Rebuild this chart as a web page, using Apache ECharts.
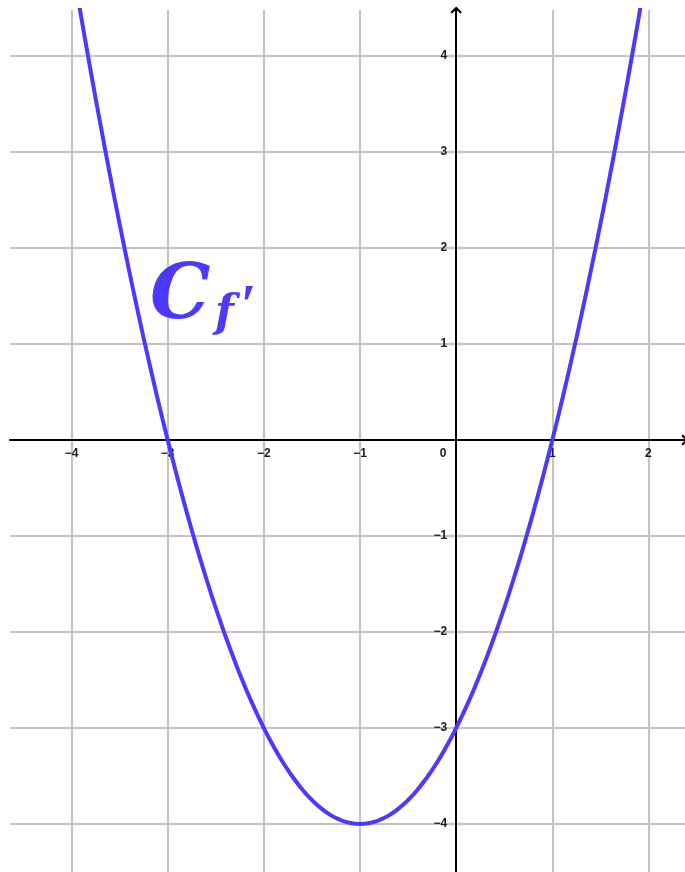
<!DOCTYPE html>
<html>
<head>
<meta charset="utf-8">
<script src="https://cdn.jsdelivr.net/npm/echarts@6/dist/echarts.min.js"></script>
<style>
  html, body { margin: 0; padding: 0; background: #fff; }
  #main { width: 685px; height: 872px; }
</style>
</head>
<body>
<div id="main"></div>
<script>
const xs = [-4, -3.9, -3.8, -3.7, -3.6, -3.5, -3.4, -3.3, -3.2, -3.1,
            -3, -2.9, -2.8, -2.7, -2.6, -2.5, -2.4, -2.3, -2.2, -2.1,
            -2, -1.9, -1.8, -1.7, -1.6, -1.5, -1.4, -1.3, -1.2, -1.1,
            -1, -0.9, -0.8, -0.7, -0.6, -0.5, -0.4, -0.3, -0.2, -0.1,
            0, 0.1, 0.2, 0.3, 0.4, 0.5, 0.6, 0.7, 0.8, 0.9,
            1, 1.1, 1.2, 1.3, 1.4, 1.5, 1.6, 1.7, 1.8, 1.9, 2];
const ys = [5, 4.41, 3.84, 3.29, 2.76, 2.25, 1.76, 1.29, 0.84, 0.41,
            0, -0.39, -0.76, -1.11, -1.44, -1.75, -2.04, -2.31, -2.56, -2.79,
            -3, -3.19, -3.36, -3.51, -3.64, -3.75, -3.84, -3.91, -3.96, -3.99,
            -4, -3.99, -3.96, -3.91, -3.84, -3.75, -3.64, -3.51, -3.36, -3.19,
            -3, -2.79, -2.56, -2.31, -2.04, -1.75, -1.44, -1.11, -0.76, -0.39,
            0, 0.41, 0.84, 1.29, 1.76, 2.25, 2.76, 3.29, 3.84, 4.41, 5];

// tick values
const xTicks = [-4, -3, -2, -1, 0, 1, 2];
const yTicks = [-4, -3, -2, -1, 1, 2, 3, 4];

const curveColor = '#4b39ff';
const gridColor = '#c4c4c4';

// minus sign like the picture
function fmt(v) {
  return v < 0 ? '\u2212' + Math.abs(v) : String(v);
}

const labelStyle = {
  color: '#1a1a1a',
  fontFamily: 'Liberation Sans',
  fontWeight: 'bold',
  fontSize: 12
};

const arrowPath = 'path://M0,10 L10,0 L20,10 L17,12 L10,5 L3,12 Z';

// grid box: x -4.64..2.38 over 10..685, y -4.5..4.48 over 10..872
const W = 685, H = 872, G_LEFT = 10, G_TOP = 10;
const X_MIN = -4.64, X_MAX = 2.38, Y_MIN = -4.5, Y_MAX = 4.48;
// move the axes onto the origin
const originX = G_LEFT + (0 - X_MIN) / (X_MAX - X_MIN) * (W - G_LEFT);
const originY = G_TOP + (Y_MAX - 0) / (Y_MAX - Y_MIN) * (H - G_TOP);

const chart = echarts.init(document.getElementById('main'), null, { renderer: 'canvas' });

chart.setOption({
  animation: false,
  backgroundColor: '#fff',
  grid: {
    left: G_LEFT, right: 0, top: G_TOP, bottom: 0,
    containLabel: false,
    outerBoundsMode: 'none'
  },
  xAxis: {
    type: 'value',
    position: 'bottom',
    offset: -(H - originY),
    min: X_MIN,
    max: X_MAX,
    axisLine: {
      onZero: false,
      lineStyle: { color: '#000', width: 2 },
      symbol: ['none', arrowPath],
      symbolSize: [12, 7]
    },
    axisTick: { show: false, customValues: xTicks },
    axisLabel: Object.assign({
      customValues: xTicks,
      margin: 8,
      formatter: function (v) {
        return v === 0 ? '{z|0}' : fmt(v);
      },
      rich: {
        z: Object.assign({ padding: [0, 26, 0, 0] }, labelStyle)
      }
    }, labelStyle),
    splitLine: { show: true, lineStyle: { color: gridColor, width: 2 } }
  },
  yAxis: {
    type: 'value',
    position: 'left',
    offset: -(originX - G_LEFT),
    min: Y_MIN,
    max: Y_MAX,
    axisLine: {
      onZero: false,
      lineStyle: { color: '#000', width: 2 },
      symbol: ['none', arrowPath],
      symbolSize: [12, 7]
    },
    axisTick: { show: false, customValues: yTicks },
    axisLabel: Object.assign({
      customValues: yTicks,
      margin: 9,
      formatter: fmt
    }, labelStyle),
    splitLine: { show: true, lineStyle: { color: gridColor, width: 2 } }
  },
  graphic: [
    {
      type: 'text',
      left: 150,
      top: 260,
      z: 100,
      style: {
        text: 'C',
        fill: curveColor,
        font: 'italic bold 76px "DejaVu Serif"'
      }
    },
    {
      type: 'text',
      left: 215,
      top: 293,
      z: 100,
      style: {
        text: 'f',
        fill: curveColor,
        font: 'italic bold 44px "DejaVu Serif"'
      }
    },
    {
      type: 'text',
      left: 241,
      top: 282,
      z: 100,
      style: {
        text: '\u2032',
        fill: curveColor,
        font: 'bold 56px "Liberation Serif"'
      }
    }
  ],
  series: [{
    type: 'line',
    data: xs.map((x, i) => [x, ys[i]]),
    smooth: true,
    showSymbol: false,
    clip: true,
    lineStyle: { color: curveColor, width: 4 },
    z: 10
  }]
});
</script>
</body>
</html>
